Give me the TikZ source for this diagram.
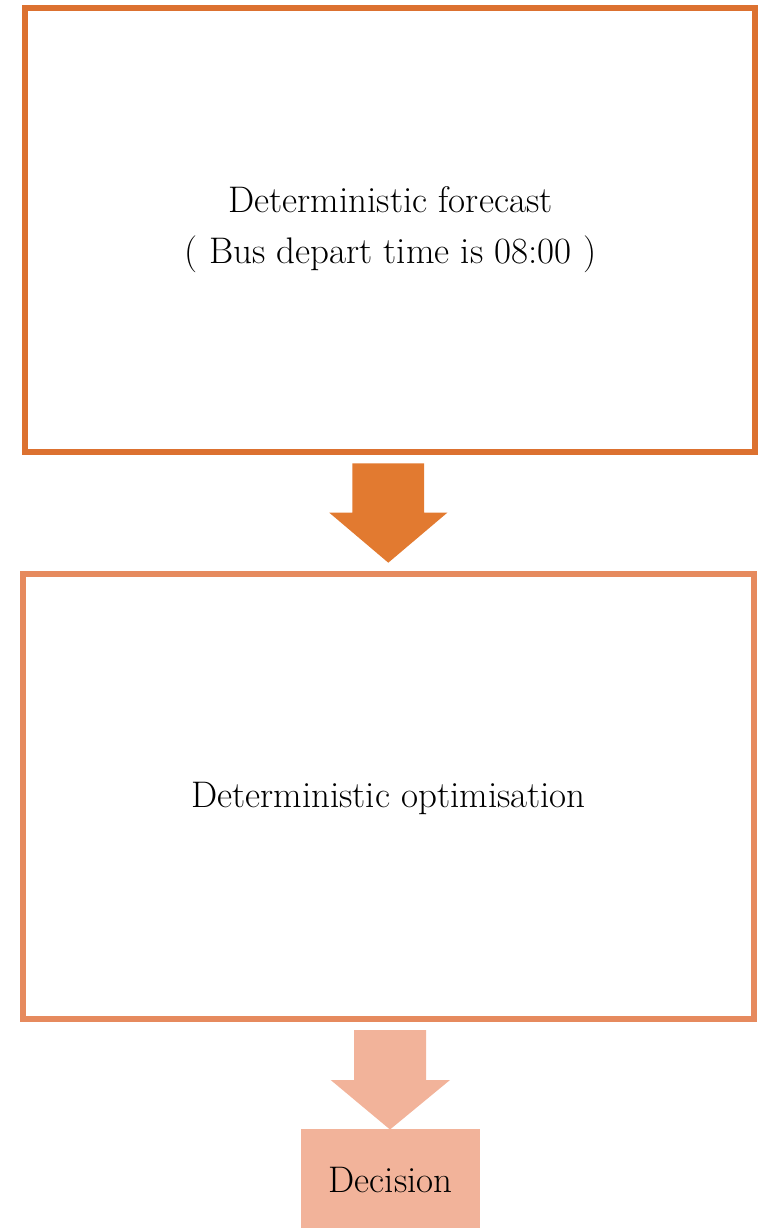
\documentclass[tikz,border=0pt]{standalone}
\usepackage{fontspec}
\definecolor{cTop}{HTML}{DC7130}
\definecolor{cArrOne}{HTML}{E27A30}
\definecolor{cMid}{HTML}{E68A5E}
\definecolor{cLight}{HTML}{F2B39A}
\begin{document}
\begin{tikzpicture}[x=1pt,y=-1pt,
  boxstyle/.style={draw, line width=6pt, fill=white, inner sep=0pt},
  txt/.style={anchor=base, font=\fontsize{37}{44}\selectfont, inner sep=0pt}]
\useasboundingbox (0,0) rectangle (764,1228);
% boxes
\node[boxstyle, draw=cTop, minimum width=730pt, minimum height=444pt] (fc) at (390,230) {};
\node[boxstyle, draw=cMid, minimum width=731pt, minimum height=445pt] (opt) at (388.5,796.5) {};
\node[fill=cLight, draw=none, inner sep=0pt, minimum width=179pt, minimum height=99pt] (dec) at (390.5,1178.5) {};
% texts
\node[txt] (t1) at (390.5,212.5) {Deterministic forecast};
\node[txt] (t2) at (390.5,263) {( Bus depart time is 08:00 )};
\node[txt] (t3) at (388.5,807) {Deterministic optimisation};
\node[txt] (t4) at (390.5,1192) {Decision};
% arrows
\fill[cArrOne] (352.3,463.3) -- (424,463.3) -- (424,512.7) -- (447.3,512.7) -- (388.3,562.7) -- (329.3,512.7) -- (352.3,512.7) -- cycle;
\fill[cLight] (354,1030) -- (426,1030) -- (426,1080) -- (450,1080) -- (390,1129.5) -- (330.7,1080) -- (354,1080) -- cycle;
\end{tikzpicture}
\end{document}
